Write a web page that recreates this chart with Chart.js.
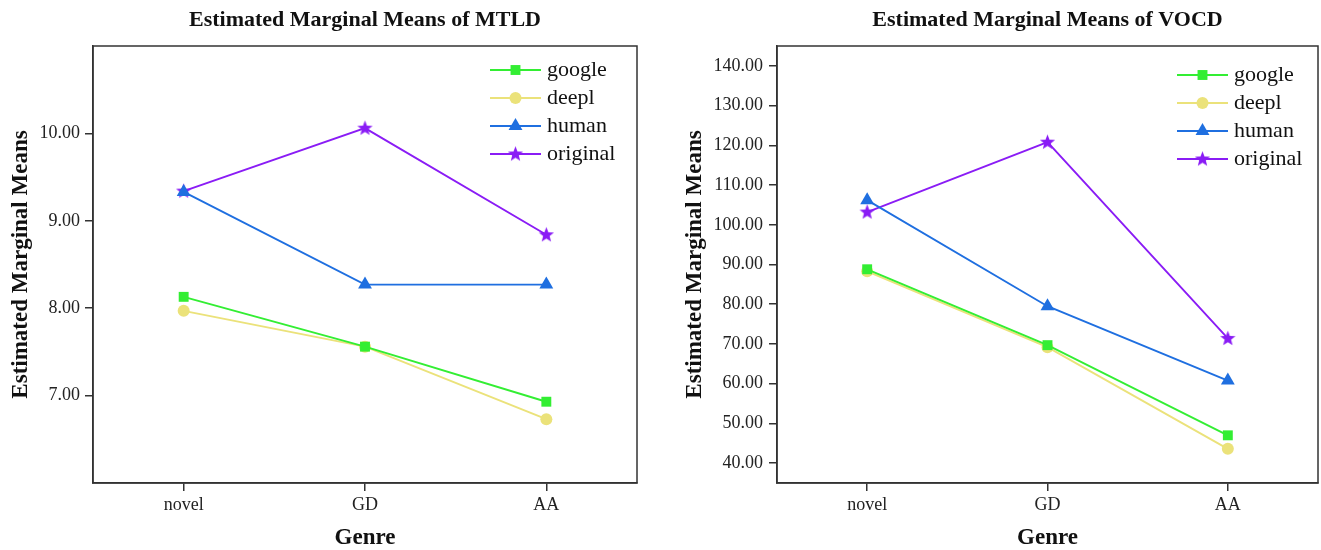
<!DOCTYPE html>
<html>
<head>
<meta charset="utf-8">
<script src="https://cdn.jsdelivr.net/npm/chart.js@4.4.1/dist/chart.umd.min.js"></script>
<style>
  body { margin: 0; background: #fff; overflow: hidden; }
  .box { position: absolute; top: 0; height: 550px; overflow: hidden; }
  #left { left: 0; width: 660px; }
  #right { left: 660px; width: 661px; }
</style>
</head>
<body>
<div class="box" id="left"><canvas id="mtld" width="660" height="550"></canvas></div>
<div class="box" id="right"><canvas id="vocd" width="666" height="550"></canvas></div>
<script>
const genres = ['novel', 'GD', 'AA'];
const seriesNames = ['google', 'deepl', 'human', 'original'];

// MTLD
const mtldGoogle = [8.13, 7.56, 6.93];
const mtldDeepl = [7.97, 7.56, 6.73];
const mtldHuman = [9.33, 8.27, 8.27];
const mtldOriginal = [9.34, 10.06, 8.84];
const mtldTicks = [7, 8, 9, 10];

// VOCD
const vocdGoogle = [88.8, 69.7, 47.0];
const vocdDeepl = [88.3, 69.2, 43.6];
const vocdHuman = [106.2, 79.5, 60.8];
const vocdOriginal = [103.2, 120.8, 71.4];
const vocdTicks = [40, 50, 60, 70, 80, 90, 100, 110, 120, 130, 140];

const colors = ['#33ee33', '#ebe27a', '#1f6fe0', '#8a1cf5'];
const FONT = '"Liberation Serif", "Times New Roman", serif';

// filled five-point star for "original"
function makeStar(color) {
    let c = document.createElement('canvas');
    c.width = 17; c.height = 17;
    let g = c.getContext('2d');
    g.fillStyle = color;
    g.beginPath();
    for (let i = 0; i < 10; i++) {
        let r = i % 2 == 0 ? 8 : 3.4;
        let a = -Math.PI / 2 + i * Math.PI / 5;
        g.lineTo(8.5 + r * Math.cos(a), 8.8 + r * Math.sin(a));
    }
    g.closePath();
    g.fill();
    return c;
}
const star = makeStar(colors[3]);
const styles = [
    { pointStyle: 'rect', radius: 7 },
    { pointStyle: 'circle', radius: 6 },
    { pointStyle: 'triangle', radius: 8 },
    { pointStyle: star, radius: 8 }
];

const framePlugin = {
    id: 'frame',
    afterDatasetsDraw(chart) {
        let a = chart.chartArea, ctx = chart.ctx;
        ctx.save();
        ctx.strokeStyle = '#333';
        ctx.lineWidth = 1.5;
        ctx.strokeRect(a.left, a.top, a.right - a.left, a.bottom - a.top);
        ctx.restore();
    }
};

const innerLegend = {
    id: 'innerLegend',
    afterDraw(chart, args, opts) {
        let a = chart.chartArea, ctx = chart.ctx;
        ctx.save();
        chart.data.datasets.forEach((ds, i) => {
            let y = a.top + opts.top + i * opts.gap;
            let x0 = a.right - opts.right;
            ctx.strokeStyle = ds.borderColor;
            ctx.fillStyle = ds.borderColor;
            ctx.lineWidth = 1.8;
            ctx.beginPath();
            ctx.moveTo(x0, y);
            ctx.lineTo(x0 + 51, y);
            ctx.stroke();
            Chart.helpers.drawPoint(ctx, { pointStyle: ds.pointStyle, rotation: 0, radius: ds.pointRadius, borderWidth: 0 }, x0 + 25.5, y);
            ctx.fillStyle = '#111';
            ctx.font = '22px ' + FONT;
            ctx.textBaseline = 'middle';
            ctx.fillText(ds.label, x0 + 57, y);
        });
        ctx.restore();
    }
};

function makeChart(id, title, sets, yMin, yMax, ticks, geo) {
    let datasets = sets.map((vals, i) => ({
        label: seriesNames[i],
        data: vals,
        borderColor: colors[i],
        backgroundColor: colors[i],
        borderWidth: 1.9,
        pointStyle: styles[i].pointStyle,
        pointRadius: styles[i].radius,
        pointBorderWidth: 0,
        tension: 0
    }));
    return new Chart(document.getElementById(id), {
        type: 'line',
        data: { labels: genres, datasets: datasets },
        plugins: [framePlugin, innerLegend],
        options: {
            responsive: false,
            animation: false,
            events: [],
            layout: { padding: { left: 0, right: geo.padRight, top: 0, bottom: 0 } },
            plugins: {
                legend: { display: false },
                tooltip: { enabled: false },
                title: {
                    display: true,
                    text: title,
                    fullSize: false,
                    color: '#111',
                    font: { family: FONT, size: 22, weight: 'bold' },
                    padding: { top: 7, bottom: 12.6 }
                },
                innerLegend: geo.legend
            },
            scales: {
                x: {
                    offset: true,
                    afterFit(s) { s.height = 67; s.paddingLeft = 0; s.paddingRight = 0; },
                    grid: { display: true, drawOnChartArea: false, drawTicks: true, tickLength: 8, color: '#333', lineWidth: 1.5, offset: false },
                    border: { display: true, color: '#333', width: 1.5 },
                    ticks: { color: '#222', padding: 3, font: { family: FONT, size: 18 } },
                    title: { display: true, text: 'Genre', color: '#111', padding: { top: 0, bottom: -2 }, font: { family: FONT, size: 23, weight: 'bold' } }
                },
                y: {
                    min: yMin,
                    max: yMax,
                    afterFit(s) { s.width = geo.yWidth; },
                    afterBuildTicks(s) { s.ticks = ticks.map(v => ({ value: v })); },
                    grid: { display: true, drawOnChartArea: false, drawTicks: true, tickLength: 8, color: '#333', lineWidth: 1.5 },
                    border: { display: true, color: '#333', width: 1.5 },
                    ticks: { color: '#222', padding: geo.tickPad, font: { family: FONT, size: 18 }, callback: v => v.toFixed(2) },
                    title: { display: true, text: 'Estimated Marginal Means', color: '#111', padding: { top: geo.titlePad, bottom: 0 }, font: { family: FONT, size: 23, weight: 'bold' } }
                }
            }
        }
    });
}

makeChart('mtld', 'Estimated Marginal Means of MTLD',
    [mtldGoogle, mtldDeepl, mtldHuman, mtldOriginal], 6, 11, mtldTicks,
    { padRight: 23, yWidth: 93, tickPad: 5, titlePad: 7, legend: { top: 24, gap: 28, right: 147 } });

makeChart('vocd', 'Estimated Marginal Means of VOCD',
    [vocdGoogle, vocdDeepl, vocdHuman, vocdOriginal], 35, 145, vocdTicks,
    { padRight: 3, yWidth: 117, tickPad: 6, titlePad: 21, legend: { top: 29, gap: 28, right: 141 } });
</script>
</body>
</html>
